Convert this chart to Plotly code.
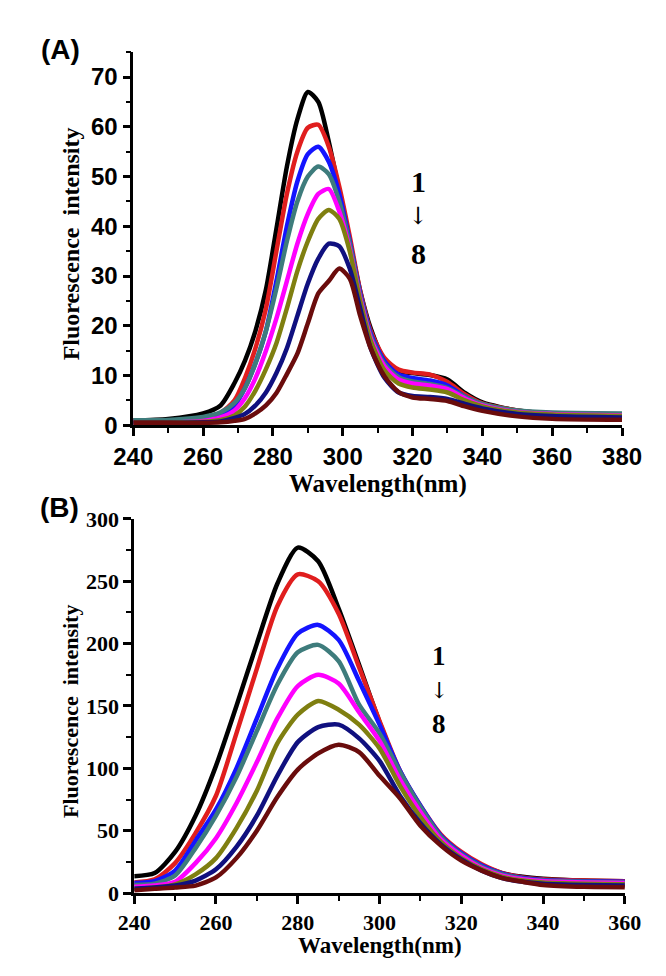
import plotly.graph_objects as go

# ---------------- Panel A data ----------------
wl_a = [240, 250, 260, 265, 269, 272, 275, 278, 281, 284, 287, 290, 293, 296, 299,
        302, 305, 308, 312, 316, 320, 325, 330, 335, 340, 350, 360, 380]
a1 = [1.0, 1.3, 2.4, 4.0, 8.5, 13, 19, 27.3, 39.5, 52, 61.5, 67, 65, 57, 47,
      37, 27, 19.5, 13, 10.9, 10.5, 10.1, 9.2, 6.5, 4.6, 3.0, 2.4, 2.2]
a2 = [0.8, 0.9, 1.5, 2.5, 5.0, 9.5, 15.5, 23.5, 35, 46.5, 55, 59.8, 60.4, 56, 48,
      38, 27, 19, 13.5, 11.2, 10.6, 10.2, 8.7, 6.2, 4.4, 3.0, 2.4, 2.2]
a3 = [0.7, 0.8, 1.2, 2.0, 4.0, 7.5, 12.5, 19, 29, 40, 49, 54.5, 56, 53, 46.5,
      37, 26.5, 18.5, 12.8, 10.2, 9.5, 9.0, 8.0, 5.8, 4.2, 2.8, 2.3, 2.1]
a4 = [1.0, 1.1, 1.7, 2.6, 4.5, 7.5, 12.5, 19, 27.5, 37, 45, 50, 52, 50.5, 45,
      36.5, 26, 18, 12.3, 9.7, 8.8, 8.3, 7.5, 5.7, 4.3, 3.0, 2.6, 2.4]
a5 = [0.6, 0.6, 0.9, 1.6, 3.0, 5.5, 9.5, 15, 21.5, 29, 36.5, 42.5, 46.5, 47.5, 43,
      35.5, 25.5, 17.5, 11.8, 9.2, 8.4, 8.0, 7.3, 5.4, 4.0, 2.7, 2.3, 2.0]
a6 = [0.6, 0.6, 0.7, 1.1, 2.0, 3.8, 7.0, 11.3, 16.5, 23.5, 31, 37, 41.5, 43.3, 41.5,
      35, 25, 17, 11, 8.4, 7.6, 7.2, 6.6, 5.0, 3.8, 2.6, 2.2, 1.9]
a7 = [0.5, 0.5, 0.6, 0.8, 1.5, 2.3, 4.0, 6.6, 10.5, 15.5, 22, 28.5, 33.5, 36.5, 36,
      31.5, 23.5, 15.5, 9.5, 6.6, 5.9, 5.7, 5.3, 4.3, 3.4, 2.3, 1.9, 1.6]
a8 = [0.5, 0.5, 0.5, 0.6, 0.9, 1.3, 2.4, 4.0, 6.5, 10.3, 14.4, 20.5, 26.5, 29, 31.5,
      29.5, 22, 15.5, 9.8, 6.7, 5.6, 5.3, 4.9, 3.8, 2.9, 1.8, 1.3, 1.1]

# ---------------- Panel B data ----------------
wl_b = [240, 245, 250, 255, 260, 265, 270, 275, 280, 285, 290, 295, 300, 305, 310,
        315, 320, 325, 330, 335, 340, 350, 360]
b1 = [13.5, 16, 33, 62, 102, 150, 200, 248, 277, 266, 228, 183, 137, 97, 69,
      46, 32, 22, 16, 13, 11.5, 10, 9.5]
b2 = [8.5, 11, 24, 48, 78, 128, 180, 230, 255.5, 250, 224, 181, 138, 98, 70,
      47, 33, 23, 16, 12.5, 11, 10, 9.5]
b3 = [8, 9.5, 18, 42, 67, 100, 140, 180, 208, 215, 203, 170, 135, 98, 70,
      46, 32, 22, 15.5, 12, 10.5, 9.5, 9]
b4 = [6.5, 7.5, 14, 36, 62, 93, 130, 167, 193, 199, 186, 151, 128, 97, 69,
      45, 31, 21, 15, 11.5, 10, 9, 8.5]
b5 = [5, 6, 9, 24, 44, 72, 105, 140, 166, 175, 168, 145, 122, 91, 65,
      43, 30, 20, 14, 11, 9.5, 8.5, 8]
b6 = [3.5, 4.5, 7, 15, 28, 52, 82, 120, 143, 154, 147, 135, 116, 86, 61,
      41, 28, 19, 13, 10, 8.5, 7.5, 7]
b7 = [3.5, 4.5, 6, 10, 19, 37, 62, 94, 121, 133, 135, 124, 106, 78, 56,
      39, 27, 18, 12, 9, 7.5, 6.5, 6]
b8 = [2.3, 3.5, 4.5, 6, 12.5, 28, 50, 77, 99, 112, 119, 113, 94, 76, 54,
      38, 26, 18, 12, 9, 6.5, 5, 4.7]

colors = ["#000000", "#e01e1e", "#1414ff", "#3e7c7c", "#ff00ff", "#7f7f10", "#10107f", "#6a0c0c"]
series_a = [a1, a2, a3, a4, a5, a6, a7, a8]
series_b = [b1, b2, b3, b4, b5, b6, b7, b8]

W, H = 666, 976

fig = go.Figure()
for ys, c in zip(series_a, colors):
    fig.add_trace(go.Scatter(x=wl_a, y=ys, mode="lines", xaxis="x", yaxis="y",
                             line=dict(color=c, width=4.5, shape="spline", smoothing=0.7),
                             showlegend=False, hoverinfo="skip"))
for ys, c in zip(series_b, colors):
    fig.add_trace(go.Scatter(x=wl_b, y=ys, mode="lines", xaxis="x2", yaxis="y2",
                             line=dict(color=c, width=4.5, shape="spline", smoothing=0.7),
                             showlegend=False, hoverinfo="skip"))

sans = dict(family="Liberation Sans, Arial, sans-serif", size=24, color="black", weight="bold")
serif = dict(family="Liberation Serif, Times New Roman, serif", size=22, color="black", weight="bold")

def ax(domain, rng, dtick, mdtick, font, anchor, tick0):
    return dict(domain=domain, range=rng, dtick=dtick, tick0=tick0, anchor=anchor,
                ticks="outside", ticklen=8, tickwidth=2.5, tickcolor="black",
                showline=True, linewidth=2.5, linecolor="black",
                showgrid=False, zeroline=False, tickfont=font,
                minor=dict(ticks="outside", ticklen=5, tickwidth=2, tickcolor="black",
                           dtick=mdtick, tick0=tick0, showgrid=False))

fig.update_layout(
    width=W, height=H, margin=dict(l=0, r=0, t=0, b=0),
    paper_bgcolor="white", plot_bgcolor="white",
    xaxis=ax([112 / W, 632 / W], [240, 380], 20, 10, sans, "y", 240),
    yaxis=ax([1 - 416 / H, 1 - 33 / H], [0, 75], 10, 5, sans, "x", 0),
    xaxis2=ax([113 / W, 635 / W], [240, 360], 20, 10, serif, "y2", 240),
    yaxis2=ax([1 - 896 / H, 1 - 512 / H], [0, 300], 50, 25, serif, "x2", 0),
)

title_font = dict(family="Liberation Serif, Times New Roman, serif", size=24, color="black", weight="bold")
ann = [
    dict(text="(A)", x=35 / W, y=1 - 30 / H, font=dict(family="Liberation Sans, Arial", size=28, color="black", weight="bold")),
    dict(text="(B)", x=34 / W, y=1 - 500 / H, font=dict(family="Liberation Sans, Arial", size=28, color="black", weight="bold")),
    dict(text="Fluorescence  intensity", x=46 / W, y=1 - 230 / H, textangle=-90, font=title_font),
    dict(text="Fluorescence  intensity", x=46 / W, y=1 - 710 / H, textangle=-90, font=dict(title_font, size=22)),
    dict(text="Wavelength(nm)", x=372 / W, y=1 - 476 / H, font=dict(title_font, size=25)),
    dict(text="Wavelength(nm)", x=375 / W, y=1 - 950 / H, font=dict(title_font, size=23)),
    dict(text="1", x=415 / W, y=1 - 166 / H, font=dict(title_font, size=30)),
    dict(text="↓", x=415 / W, y=1 - 201 / H, font=dict(family="DejaVu Serif, Liberation Serif", size=24, color="black")),
    dict(text="8", x=415 / W, y=1 - 240 / H, font=dict(title_font, size=30)),
    dict(text="1", x=437 / W, y=1 - 653 / H, font=dict(title_font, size=27)),
    dict(text="↓", x=437 / W, y=1 - 688 / H, font=dict(family="DejaVu Serif, Liberation Serif", size=22, color="black")),
    dict(text="8", x=437 / W, y=1 - 722 / H, font=dict(title_font, size=27)),
]
for a in ann:
    a.update(xref="paper", yref="paper", showarrow=False, xanchor="center", yanchor="middle")
fig.update_layout(annotations=ann)

fig.write_html("out.html")
